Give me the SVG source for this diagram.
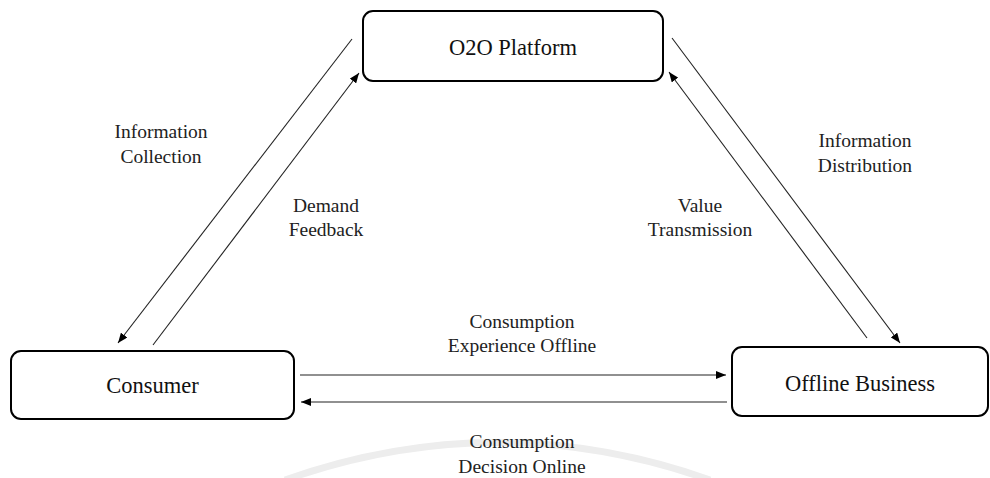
<svg xmlns="http://www.w3.org/2000/svg" width="990" height="478" viewBox="0 0 990 478">
<style>
.box{fill:#fff;stroke:#000;stroke-width:2}
.node{font-family:"Liberation Serif","Times New Roman",serif;font-size:22.5px;fill:#111;text-anchor:middle}
.lbl{font-family:"Liberation Serif","Times New Roman",serif;font-size:19.5px;fill:#222;text-anchor:middle}
.con{stroke:#222;stroke-width:1.1;fill:none}
</style>
<defs>
<marker id="ah" markerUnits="userSpaceOnUse" markerWidth="11" markerHeight="8" refX="10" refY="4" orient="auto">
<path d="M0,0 L10,4 L0,8 z" fill="#000"/>
</marker>
</defs>
<rect width="990" height="478" fill="#fff"/>
<path d="M285,480 Q497,405 710,480" fill="none" stroke="#ededed" stroke-width="7"/>
<g id="connectors">
<line class="con" x1="352" y1="39" x2="118" y2="343" marker-end="url(#ah)"/>
<line class="con" x1="153" y1="345" x2="359" y2="73" marker-end="url(#ah)"/>
<line class="con" x1="672" y1="38" x2="900" y2="343" marker-end="url(#ah)"/>
<line class="con" x1="867" y1="338" x2="669" y2="72" marker-end="url(#ah)"/>
<line class="con" x1="300" y1="375" x2="726" y2="375" marker-end="url(#ah)"/>
<line class="con" x1="727" y1="402" x2="301" y2="402" marker-end="url(#ah)"/>
<text class="lbl" x="161" y="138">Information</text>
<text class="lbl" x="161" y="163">Collection</text>
<text class="lbl" x="326" y="212">Demand</text>
<text class="lbl" x="326" y="236">Feedback</text>
<text class="lbl" x="865" y="147">Information</text>
<text class="lbl" x="865" y="172">Distribution</text>
<text class="lbl" x="700" y="212">Value</text>
<text class="lbl" x="700" y="236">Transmission</text>
<text class="lbl" x="522" y="328">Consumption</text>
<text class="lbl" x="522" y="352">Experience Offline</text>
<text class="lbl" x="522" y="448">Consumption</text>
<text class="lbl" x="522" y="473">Decision Online</text>
</g>
<g id="o2o">
<rect class="box" x="363" y="11" width="300" height="70" rx="10"/>
<text class="node" x="513" y="55">O2O Platform</text>
</g>
<g id="consumer">
<rect class="box" x="11" y="351" width="283" height="68" rx="10"/>
<text class="node" x="152.5" y="393">Consumer</text>
</g>
<g id="offline">
<rect class="box" x="732" y="347" width="256" height="69" rx="10"/>
<text class="node" x="860" y="391">Offline Business</text>
</g>
</svg>
